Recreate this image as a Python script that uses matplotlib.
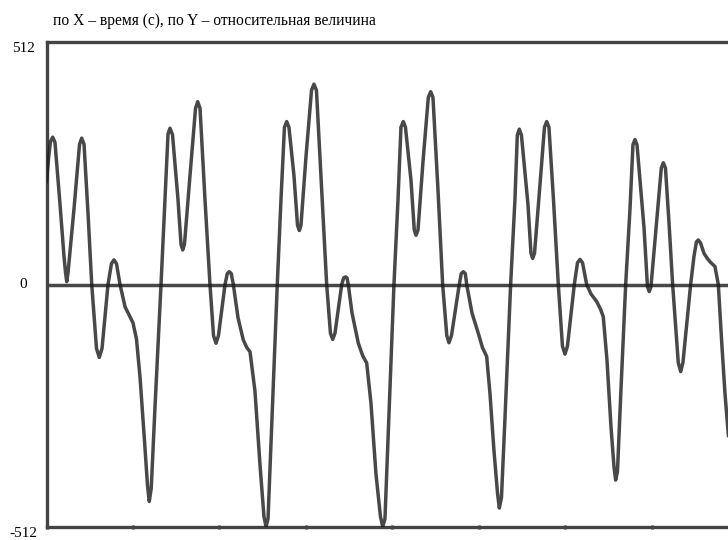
import numpy as np
import matplotlib
matplotlib.use("Agg")
import matplotlib.pyplot as plt

# -------------------------------------------------
# data (time in s, relative value)
# -------------------------------------------------
t = [0.000, 0.023, 0.046, 0.072, 0.098, 0.156, 0.202, 0.220, 0.234, 0.249,
     0.318, 0.382, 0.407, 0.434, 0.480, 0.523, 0.578, 0.610, 0.642, 0.711,
     0.751, 0.780, 0.809, 0.850, 0.908, 1.000, 1.040, 1.081, 1.133, 1.168, 1.188,
     1.211, 1.254, 1.324, 1.370, 1.405, 1.428, 1.457, 1.520, 1.555, 1.575,
     1.595, 1.659, 1.723, 1.748, 1.775, 1.832, 1.890, 1.931, 1.960, 1.988,
     2.064, 2.090, 2.113, 2.136, 2.160, 2.214, 2.275, 2.315, 2.353, 2.410, 2.468,
     2.514, 2.538, 2.561, 2.607, 2.668, 2.711, 2.751, 2.777, 2.803, 2.861,
     2.902, 2.923, 2.942, 3.000, 3.064, 3.092, 3.121, 3.173, 3.239, 3.283,
     3.309, 3.335, 3.413, 3.436, 3.459, 3.474, 3.489, 3.532, 3.605, 3.655, 3.702,
     3.751, 3.809, 3.861, 3.887, 3.913, 3.960, 4.017, 4.064, 4.098, 4.125,
     4.150, 4.214, 4.252, 4.272, 4.295, 4.353, 4.414, 4.442, 4.468, 4.526,
     4.580, 4.628, 4.653, 4.682, 4.772, 4.795, 4.819, 4.842, 4.858, 4.919,
     4.992, 5.040, 5.089, 5.127, 5.173, 5.214, 5.235, 5.260, 5.301, 5.366, 5.416,
     5.443, 5.466, 5.491, 5.566, 5.601, 5.621, 5.642, 5.705, 5.757, 5.783,
     5.809, 5.861, 5.917, 5.965, 5.994, 6.023, 6.102, 6.139, 6.168, 6.197,
     6.245, 6.295, 6.361, 6.405, 6.437, 6.480, 6.526, 6.561, 6.580, 6.601, 6.642,
     6.696, 6.746, 6.780, 6.803, 6.827, 6.908, 6.948, 6.969, 6.988, 7.058,
     7.108, 7.131, 7.156, 7.197, 7.239, 7.304, 7.332, 7.358, 7.447, 7.486,
     7.514, 7.535, 7.561, 7.601, 7.640, 7.671, 7.728, 7.767, 7.809, 7.844, 7.884]

val = [216, 265, 302, 311, 300, 170, 60, 25, 6, 25,
       160, 296, 309, 296, 150, 0, -135, -154, -135, 0,
       44, 52, 44, 0, -47, -81, -115, -195, -330, -425, -458,
       -430, -260, 0, 180, 318, 330, 316, 180, 85, 73,
       85, 230, 372, 386, 372, 180, 0, -108, -124, -108,
       0, 23, 27, 23, 0, -70, -117, -133, -142, -225, -380,
       -490, -511, -495, -280, 0, 180, 332, 344, 332, 230,
       125, 114, 125, 270, 410, 423, 410, 230, 0, -103,
       -116, -103, 0, 14, 16, 14, 0, -60, -124, -150, -166,
       -250, -400, -490, -511, -495, -270, 0, 180, 332, 344,
       332, 220, 115, 104, 115, 260, 395, 407, 395, 200,
       0, -108, -123, -108, 0, 23, 27, 23, 0, -60,
       -103, -133, -152, -230, -350, -440, -472, -450, -280, 0, 180,
       315, 328, 315, 170, 66, 55, 66, 210, 332, 344,
       332, 180, 0, -130, -147, -130, 0, 46, 53, 46,
       0, -20, -36, -52, -68, -160, -300, -385, -413, -395, -220,
       0, 160, 295, 306, 295, 120, -5, -15, -5, 140,
       246, 257, 246, 130, 0, -165, -184, -165, 0, 60,
       90, 94, 88, 66, 55, 48, 38, 0, -130, -230, -320]

y_ticks = [-512, 0, 512]
y_labels = ["-512", "0", "512"]
x_ticks = [0, 1, 2, 3, 4, 5, 6, 7]
title = "по X – время (с), по Y – относительная величина"

plt.rcParams["font.family"] = ["Liberation Serif", "DejaVu Serif"]

fig = plt.figure(figsize=(7.28, 5.40), dpi=100)
ax = fig.add_axes([46.5 / 728, 1 - 527 / 540, 1 - 46.5 / 728, (527 - 42) / 540])

# zero line
ax.axhline(0, color="#1a1a1a", alpha=0.8, lw=2.5, zorder=2)
# signal
ax.plot(t, val, color="#1a1a1a", alpha=0.8, lw=2.5,
        solid_joinstyle="round", solid_capstyle="round", zorder=3)

ax.set_xlim(0, 7.879)
ax.set_ylim(-512, 512)

for side in ["left", "top", "bottom"]:
    ax.spines[side].set_color("#444444")
    ax.spines[side].set_linewidth(2.4)
ax.spines["right"].set_visible(False)

ax.set_xticks(x_ticks)
ax.set_xticklabels([])
ax.tick_params(axis="x", length=2.5, width=2, color="#333333", direction="inout")

ax.set_yticks(y_ticks)
ax.set_yticklabels(y_labels)
ax.tick_params(axis="y", length=0, pad=16.5, labelsize=11)
for lab, txt in zip(ax.get_yticklabels(), y_labels):
    lab.set_horizontalalignment("center")
    if txt == "0":
        lab.set_verticalalignment("center")
    else:
        lab.set_verticalalignment("top")

fig.text(53 / 728, 1 - 21 / 540, title, fontsize=11.2, ha="left", va="center")

fig.savefig("out.png", dpi=100)
